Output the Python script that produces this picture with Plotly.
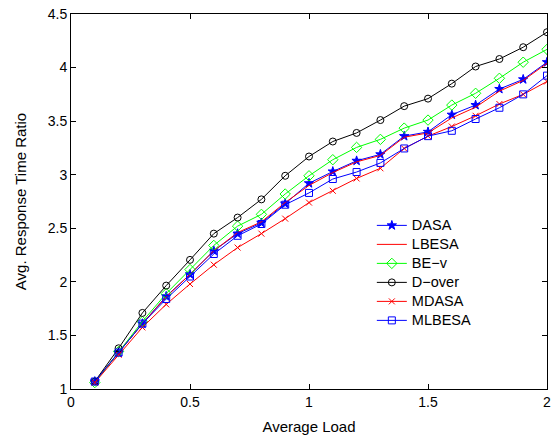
import plotly.graph_objects as go

load = [0.1, 0.2, 0.3, 0.4, 0.5, 0.6, 0.7, 0.8, 0.9, 1.0,
        1.1, 1.2, 1.3, 1.4, 1.5, 1.6, 1.7, 1.8, 1.9, 2.0]

dasa   = [1.07, 1.34, 1.61, 1.865, 2.07, 2.29, 2.45, 2.55, 2.73, 2.92,
          3.03, 3.13, 3.19, 3.36, 3.40, 3.56, 3.65, 3.80, 3.89, 4.05]
lbesa  = [1.07, 1.34, 1.61, 1.86, 2.07, 2.29, 2.46, 2.56, 2.74, 2.90,
          3.02, 3.12, 3.18, 3.35, 3.39, 3.53, 3.63, 3.78, 3.88, 4.04]
bev    = [1.06, 1.35, 1.63, 1.89, 2.115, 2.34, 2.52, 2.63, 2.82, 2.99,
          3.14, 3.255, 3.33, 3.435, 3.51, 3.65, 3.76, 3.90, 4.05, 4.17]
dover  = [1.07, 1.38, 1.71, 1.965, 2.205, 2.45, 2.60, 2.77, 2.99, 3.17,
          3.31, 3.39, 3.51, 3.64, 3.71, 3.85, 4.01, 4.08, 4.19, 4.33]
mdasa  = [1.06, 1.32, 1.575, 1.79, 1.98, 2.16, 2.32, 2.45, 2.59, 2.74,
          2.85, 2.965, 3.06, 3.245, 3.36, 3.45, 3.55, 3.66, 3.75, 3.87]
mlbesa = [1.07, 1.34, 1.61, 1.84, 2.05, 2.26, 2.43, 2.54, 2.72, 2.83,
          2.96, 3.025, 3.11, 3.245, 3.36, 3.41, 3.52, 3.625, 3.75, 3.925]

x_ticks = [0, 0.5, 1, 1.5, 2]
x_tick_text = ["0", "0.5", "1", "1.5", "2"]
y_ticks = [1, 1.5, 2, 2.5, 3, 3.5, 4, 4.5]
y_tick_text = ["1", "1.5", "2", "2.5", "3", "3.5", "4", "4.5"]

FONT = "Liberation Sans, Arial, Helvetica, sans-serif"

series = [
    ("DASA", dasa, "#0000ff", "star", 7),
    ("LBESA", lbesa, "#ff0000", None, 0),
    ("BE\u2212v", bev, "#00ff00", "diamond-open", 8),
    ("D\u2212over", dover, "#000000", "circle-open", 7),
    ("MDASA", mdasa, "#ff0000", "x-thin-open", 6),
    ("MLBESA", mlbesa, "#0000ff", "square-open", 7),
]

fig = go.Figure()
for name, ys, color, sym, size in series:
    label = '<span style="font-size:14.5px">' + name + '</span>'
    if sym:
        fig.add_trace(go.Scatter(
            x=load, y=ys, name=label, mode="lines+markers",
            line=dict(color=color, width=1),
            marker=dict(symbol=sym, size=size, color=color,
                        line=dict(color=color, width=1))))
    else:
        fig.add_trace(go.Scatter(
            x=load, y=ys, name=label, mode="lines",
            line=dict(color=color, width=1)))

axis_common = dict(
    showgrid=False, zeroline=False, showline=True, linecolor="black",
    linewidth=1, mirror="ticks", ticks="inside", ticklen=5,
    tickcolor="black", tickfont=dict(family=FONT, size=14, color="black"),
    ticklabeloverflow="allow", automargin=False,
)

fig.update_xaxes(range=[0, 2], tickvals=x_ticks, ticktext=x_tick_text,
                 title=dict(text="Average Load", standoff=12,
                            font=dict(family=FONT, size=15, color="black")),
                 **axis_common)
fig.update_yaxes(range=[1, 4.5], tickvals=y_ticks, ticktext=y_tick_text,
                 title=dict(text="Avg. Response Time Ratio", standoff=17,
                            font=dict(family=FONT, size=15, color="black")),
                 **axis_common)

fig.update_layout(
    width=551, height=437,
    margin=dict(l=71, r=4, t=14, b=48),
    plot_bgcolor="white", paper_bgcolor="white",
    legend=dict(x=0.632, y=0.475, xanchor="left", yanchor="top",
                bgcolor="rgba(255,255,255,0)", borderwidth=0,
                font=dict(family=FONT, size=12, color="black"),
                tracegroupgap=0, itemwidth=30),
)

fig.write_html("out.html")
